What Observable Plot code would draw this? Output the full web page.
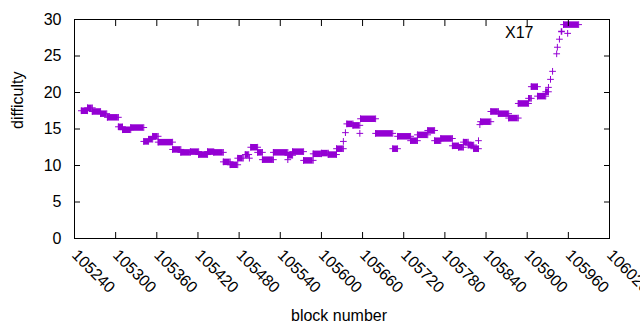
<!DOCTYPE html>
<html><head><meta charset="utf-8">
<script src="https://cdn.jsdelivr.net/npm/d3@7"></script>
<script src="https://cdn.jsdelivr.net/npm/@observablehq/plot@0.6"></script>
<style>body{margin:0;background:#fff}</style>
</head><body><div id="chart"></div>
<script>
// Runs of blocks with (nearly) constant difficulty
const runStart = [105250,105259,105266,105278,105288,105304,105310,105322,105341,105348,105354,105362,105383,105395,105409,105421,105434,105443,105457,105467,105478,105489,105497,105507,105514,105530,105551,105558,105574,105588,105600,105610,105622,105637,105646,105657,105679,105704,105711,105730,105740,105755,105765,105774,105791,105800,105807,105814,105822,105832,105847,105858,105873,105887,105902,105906,105915,105927,105953];
const runEnd   = [105259,105266,105278,105287,105304,105310,105322,105341,105348,105354,105362,105383,105395,105409,105421,105434,105443,105457,105467,105478,105486,105494,105507,105514,105530,105551,105558,105574,105588,105600,105610,105622,105632,105646,105656,105679,105704,105711,105730,105740,105755,105765,105774,105791,105800,105807,105814,105822,105829,105847,105858,105873,105887,105902,105906,105915,105927,105931,105975];
const runDiff  = [17.5,17.9,17.4,17.1,16.6,15.3,14.9,15.2,13.3,13.6,14.0,13.2,12.2,11.8,11.9,11.5,11.9,11.8,10.5,10.1,11.0,11.5,12.5,11.8,10.8,11.8,11.4,11.9,10.7,11.6,11.7,11.5,12.3,15.7,15.5,16.4,14.4,12.3,14.0,13.4,14.2,14.8,13.4,13.7,12.7,12.5,13.2,12.8,12.3,16.0,17.4,17.1,16.5,18.5,19.2,20.8,19.5,20.1,29.3];
// Isolated blocks
const singleBlock = [105495,105551,105632,105635,105656,105829,105831,105931,105934,105937,105943,105944,105947,105959];
const singleDiff  = [11.0,10.8,13.3,14.5,14.4,13.4,15.6,20.7,21.8,22.9,25.3,26.2,27.3,28.1];

const xTicks = [105240,105300,105360,105420,105480,105540,105600,105660,105720,105780,105840,105900,105960,106020];
const yTicks = [0,5,10,15,20,25,30];
const seriesName = "X17";
const xLabel = "block number";
const yLabel = "difficulty";
const color = "#9400d3";

const runs = runStart.map((s, i) => ({s, e: runEnd[i], d: runDiff[i]}));
const ends = runs.flatMap(r => [{b: r.s, d: r.d}, {b: r.e, d: r.d}]);
const singles = singleBlock.map((b, i) => ({b, d: singleDiff[i]}));

const chart = Plot.plot({
  width: 640,
  height: 330,
  marginLeft: 74,
  marginRight: 31,
  marginTop: 19,
  marginBottom: 92,
  style: {fontFamily: "'Liberation Sans', Arial, sans-serif", fontSize: "16px", background: "white", color: "black", overflow: "visible"},
  x: {domain: [105240, 106020]},
  y: {domain: [0, 30]},
  marks: [
    Plot.ruleY(runs, {y: "d", x1: "s", x2: "e", stroke: color, strokeWidth: 6.5}),
    Plot.dot(ends, {x: "b", y: "d", symbol: "plus", r: 2.3, stroke: color, strokeWidth: 1}),
    Plot.dot(singles, {x: "b", y: "d", symbol: "plus", r: 2.3, stroke: color, strokeWidth: 1}),
    Plot.frame({stroke: "black"}),
    Plot.axisY(yTicks, {anchor: "left", tickSize: 0, tickPadding: 13, label: null}),
    Plot.axisY(yTicks, {anchor: "left", tickSize: -6, text: null, label: null}),
    Plot.axisY(yTicks, {anchor: "right", tickSize: -6, text: null, label: null}),
    Plot.axisX(xTicks, {anchor: "bottom", tickSize: 0, tickPadding: 14, tickRotate: 45, textAnchor: "start", tickFormat: d => String(d), label: null}),
    Plot.axisX(xTicks, {anchor: "bottom", tickSize: -6, text: null, label: null}),
    Plot.axisX(xTicks, {anchor: "top", tickSize: -6, text: null, label: null}),
    Plot.text([yLabel], {text: d => d, frameAnchor: "left", dx: -57, rotate: -90, fill: "black"}),
    Plot.text([xLabel], {text: d => d, frameAnchor: "bottom", lineAnchor: "middle", dx: -3, dy: 77, fill: "black"}),
    Plot.text([seriesName], {text: d => d, frameAnchor: "top-right", textAnchor: "end", lineAnchor: "middle", dx: -76, dy: 13, fill: "black"}),
    Plot.dot([seriesName], {frameAnchor: "top-right", dx: -48, dy: 12, symbol: "plus", r: 2.3, stroke: color})
  ]
});
document.getElementById("chart").appendChild(chart);
</script>
</body></html>
